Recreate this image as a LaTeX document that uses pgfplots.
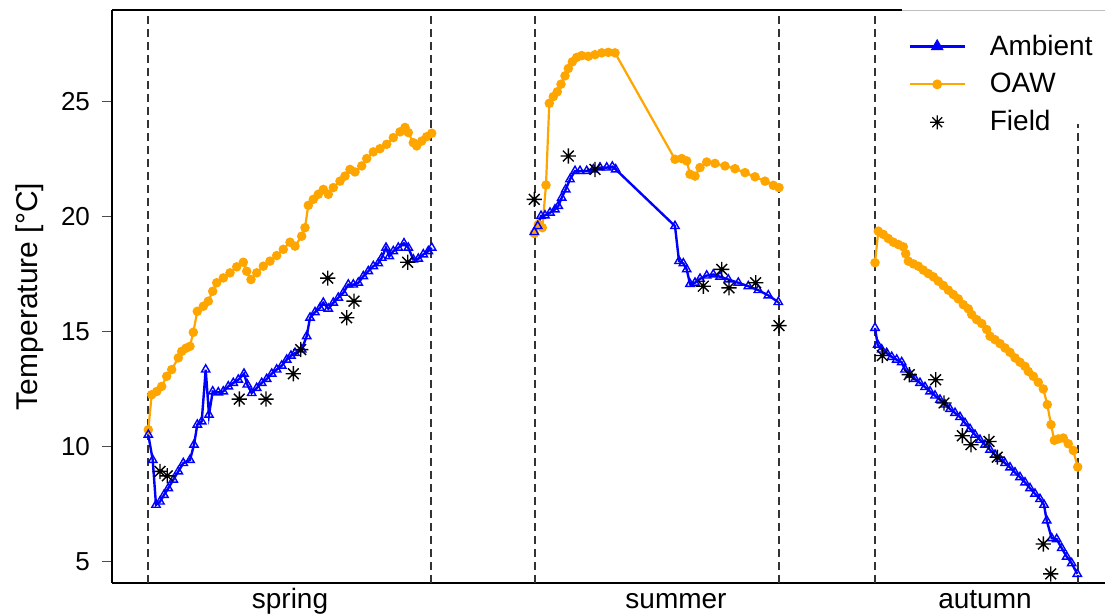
\documentclass[border=0pt]{standalone}
\usepackage{fontspec}
\setmainfont{Liberation Sans}
\usepackage{pgfplots}
\pgfplotsset{compat=1.18}
\definecolor{ambblue}{RGB}{0,0,255}
\definecolor{oaworange}{RGB}{255,165,0}
\pgfdeclareplotmark{star8}{%
  \pgfpathmoveto{\pgfqpoint{-\pgfplotmarksize}{0pt}}\pgfpathlineto{\pgfqpoint{\pgfplotmarksize}{0pt}}%
  \pgfpathmoveto{\pgfqpoint{0pt}{-\pgfplotmarksize}}\pgfpathlineto{\pgfqpoint{0pt}{\pgfplotmarksize}}%
  \pgfpathmoveto{\pgfqpoint{-0.707\pgfplotmarksize}{-0.707\pgfplotmarksize}}\pgfpathlineto{\pgfqpoint{0.707\pgfplotmarksize}{0.707\pgfplotmarksize}}%
  \pgfpathmoveto{\pgfqpoint{-0.707\pgfplotmarksize}{0.707\pgfplotmarksize}}\pgfpathlineto{\pgfqpoint{0.707\pgfplotmarksize}{-0.707\pgfplotmarksize}}%
  \pgfusepathqstroke}
\begin{document}
\begin{tikzpicture}
\begin{axis}[
  at={(56pt,16pt)}, anchor=south west,
  scale only axis, width=496.5pt, height=286.5pt,
  xmin=112, xmax=1105, ymin=4.087, ymax=28.96,
  axis x line*=bottom, axis y line*=left,
  axis line style={line width=0.9pt},
  xtick={290,676,985}, xticklabels={spring,summer,autumn},
  xtick style={draw=none},
  ytick={5,10,15,20,25},
  tick align=outside, major tick length=5pt,
  ytick style={line width=0.5pt, black!70},
  /pgf/number format/assume math mode=true,
  yticklabel style={font=\fontsize{13}{15}\selectfont, xshift=-2.5pt},
  xticklabel style={font=\fontsize{14}{16}\selectfont, anchor=base, yshift=-8pt},
  ylabel={Temperature [°C]},
  ylabel style={font=\fontsize{15}{17}\selectfont, yshift=2pt},
  clip=false,
  legend image code/.code={\draw[mark repeat=2,mark phase=2,#1] plot coordinates {(0pt,0pt) (13.75pt,0pt) (27.5pt,0pt)};},
  legend style={at={(1,1)}, anchor=north east, draw=none, fill=none, yshift=-11.2pt,
    font=\fontsize{14}{16}\selectfont, cells={anchor=west},
    nodes={inner ysep=1pt},
    inner xsep=4pt, inner ysep=0pt, row sep=5.5pt,
    /tikz/every odd column/.append style={column sep=10pt}},
]
% vertical dashed separators
\addplot[forget plot, dash pattern=on 4pt off 2.5pt, line width=0.6pt, black!80] coordinates {(148,4.087) (148,28.96)};
\addplot[forget plot, dash pattern=on 4pt off 2.5pt, line width=0.6pt, black!80] coordinates {(431,4.087) (431,28.96)};
\addplot[forget plot, dash pattern=on 4pt off 2.5pt, line width=0.6pt, black!80] coordinates {(535,4.087) (535,28.96)};
\addplot[forget plot, dash pattern=on 4pt off 2.5pt, line width=0.6pt, black!80] coordinates {(779,4.087) (779,28.96)};
\addplot[forget plot, dash pattern=on 4pt off 2.5pt, line width=0.6pt, black!80] coordinates {(875,4.087) (875,28.96)};
\addplot[forget plot, dash pattern=on 4pt off 2.5pt, line width=0.6pt, black!80] coordinates {(1078,4.087) (1078,24.0)};

% OAW (orange), three seasons
\addplot[oaworange, line width=1.1pt, mark=*, mark size=1.8pt, forget plot] coordinates {
(148.3,10.74) (151.7,12.26) (156.7,12.40) (161.7,12.62) (166.7,13.06) (171.7,13.35) (178.3,13.86) (181.7,14.14) (186,14.28) (190,14.36) (193.3,14.97) (197.3,15.88) (203.3,16.10) (208.3,16.32) (212.7,16.75) (216.7,17.12) (223.3,17.33) (230,17.55) (236.7,17.81) (243.3,18.01) (246.7,17.62) (251,17.26) (256.7,17.55) (263.3,17.84) (270,18.06) (276.7,18.30) (283.3,18.57) (290,18.88) (295,18.71) (301.7,19.14) (305,19.51) (308.3,20.48) (313.3,20.74) (318.3,20.96) (323.3,21.17) (328.3,20.96) (333.3,21.25) (340,21.53) (345,21.75) (350,22.04) (355,21.93) (361.7,22.19) (366.7,22.51) (373.3,22.80) (380,22.94) (386.7,23.13) (393.3,23.42) (400,23.67) (405,23.86) (408.3,23.64) (413.3,23.20) (416.7,23.06) (421.7,23.27) (426.7,23.46) (431.7,23.61)
};
\addplot[oaworange, line width=1.1pt, mark=*, mark size=1.8pt, forget plot] coordinates {
(534.3,19.26) (538.3,19.65) (542.3,19.51) (546,21.36) (549.3,24.91) (553.3,25.20) (557.3,25.41) (561,25.74) (565,26.10) (568.3,26.42) (572.3,26.71) (576.7,26.90) (581.7,26.98) (588.3,26.95) (595,27.02) (601.7,27.10) (608.3,27.12) (615,27.10) (675,22.48) (681.7,22.51) (686.7,22.41) (690,21.83) (695,21.75) (700,22.12) (706.7,22.36) (715,22.30) (725,22.19) (735,22.07) (745,21.90) (755,21.72) (765,21.53) (773.3,21.35) (779,21.25)
};
\addplot[oaworange, line width=1.1pt, mark=*, mark size=1.8pt, forget plot] coordinates {
(875,17.99) (878.3,19.36) (883.3,19.22) (888.3,19.04) (893.3,18.88) (898.3,18.78) (903.3,18.68) (905.7,18.38) (908.3,18.06) (913.3,17.94) (918.3,17.84) (923.3,17.67) (928.3,17.52) (933.3,17.38) (938.3,17.19) (943.3,17.00) (948.3,16.80) (953.3,16.61) (958.3,16.42) (963.3,16.17) (968.3,15.99) (971.7,15.74) (976.7,15.52) (981.7,15.35) (986.7,15.09) (990,14.80) (995,14.65) (1000,14.48) (1005,14.29) (1010,14.10) (1015,13.86) (1020,13.67) (1025,13.49) (1028.3,13.27) (1033.3,13.06) (1038.3,12.80) (1043.3,12.51) (1047.3,11.83) (1051,10.96) (1054.3,10.28) (1058.3,10.34) (1063.3,10.38) (1068.3,10.13) (1073.3,9.84) (1077.7,9.12)
};

% Ambient (blue), three seasons
\addplot[ambblue, line width=1.2pt, mark=triangle, mark size=2.4pt, mark options={line width=0.7pt}, forget plot] coordinates {
(148.3,10.52) (152.7,9.43) (156,7.48) (160,7.62) (164,7.91) (168.3,8.20) (173.3,8.57) (178.3,8.93) (183.3,9.29) (190,9.43) (194,10.09) (197.3,10.96) (201.7,11.10) (205.7,13.35) (209,11.39) (212.7,12.40) (218.3,12.36) (223.3,12.40) (228.3,12.62) (233.3,12.77) (238.3,12.91) (244,13.17) (247.3,12.70) (251.7,12.33) (256.7,12.55) (261.7,12.77) (266.7,12.94) (271.7,13.17) (276.7,13.35) (281.7,13.52) (286.7,13.78) (291,13.95) (295,14.07) (301.7,14.22) (306.7,14.80) (310,15.60) (315,15.84) (320,16.03) (323.3,16.25) (328.3,15.99) (333.3,16.25) (338.3,16.47) (343.3,16.68) (348.3,17.04) (353.3,17.04) (358.3,17.12) (363.3,17.40) (368.3,17.62) (373.3,17.84) (378.3,17.96) (381.7,18.20) (386,18.64) (389.3,18.27) (393.3,18.49) (398.3,18.64) (404,18.83) (408.3,18.64) (413.3,18.13) (418.3,18.16) (423.3,18.35) (428.3,18.49) (431.7,18.64)
};
\addplot[ambblue, line width=1.2pt, mark=triangle, mark size=2.4pt, mark options={line width=0.7pt}, forget plot] coordinates {
(534.3,19.32) (537.7,19.58) (541,20.02) (545,20.04) (550,20.16) (555,20.30) (558.3,20.45) (561.7,20.81) (565.7,21.17) (570,21.61) (575,21.97) (580,21.97) (586.7,21.97) (593.3,22.04) (600,22.12) (606.7,22.12) (612.3,22.16) (615.7,22.04) (675,19.58) (679,18.06) (683.3,17.96) (686.7,17.70) (690,17.07) (695,17.12) (700,17.29) (706.7,17.43) (713.3,17.48) (720,17.38) (728.3,17.26) (738.3,17.12) (748.3,16.97) (758.3,16.80) (768.3,16.57) (778.3,16.28)
};
\addplot[ambblue, line width=1.2pt, mark=triangle, mark size=2.4pt, mark options={line width=0.7pt}, forget plot] coordinates {
(875,15.16) (877.7,14.43) (881.7,14.22) (886.7,14.07) (891.7,13.90) (896.7,13.78) (901.7,13.67) (905,13.35) (910,13.13) (915,12.94) (920,12.77) (925,12.59) (930,12.40) (935,12.22) (940,12.04) (945,11.83) (950,11.64) (955,11.47) (960,11.29) (965,11.03) (970,10.77) (975,10.52) (980,10.30) (985,10.09) (990,9.87) (995,9.65) (1000,9.47) (1005,9.29) (1010,9.10) (1015,8.88) (1020,8.68) (1025,8.45) (1030,8.20) (1035,7.96) (1040,7.73) (1044,7.48) (1046.7,6.80) (1051.7,6.03) (1056.7,5.99) (1061.7,5.60) (1066.7,5.23) (1071.7,4.94) (1077.3,4.48)
};

% Field
\addplot[only marks, mark=star8, mark size=3.8pt, mark options={line width=0.7pt, black}, forget plot] coordinates {
(160,8.93) (167.3,8.74) (239.3,12.07) (266,12.07) (293.3,13.17) (300.7,14.22) (327.7,17.32) (346.7,15.60) (354,16.32) (407.7,18.01)
(534.3,20.74) (568.3,22.62) (595,22.04) (703.3,16.97) (721.7,17.70) (729,16.90) (755.7,17.12) (779,15.26)
(882.3,13.96) (909.3,13.13) (935.7,12.91) (944,11.90) (962.3,10.48) (971,10.09) (989,10.23) (997.3,9.55) (1043.3,5.78) (1050.7,4.48)
};

\addlegendimage{ambblue, line width=1.2pt, mark=triangle*, mark size=2.6pt}
\addlegendentry{Ambient}
\addlegendimage{oaworange, line width=1.1pt, mark=*, mark size=1.9pt}
\addlegendentry{OAW}
\addlegendimage{only marks, mark=star8, mark size=3.5pt, mark options={line width=0.6pt, black}}
\addlegendentry{Field}

% top spine: black then grey
\draw[line width=0.9pt, black] (rel axis cs:0,1) -- (axis cs:902,28.96);
\draw[line width=0.4pt, black!25] (axis cs:902,28.96) -- (rel axis cs:1,1);
\end{axis}
\pgfresetboundingbox
\path (0,0) rectangle (552.5pt,307.5pt);
\end{tikzpicture}
\end{document}
